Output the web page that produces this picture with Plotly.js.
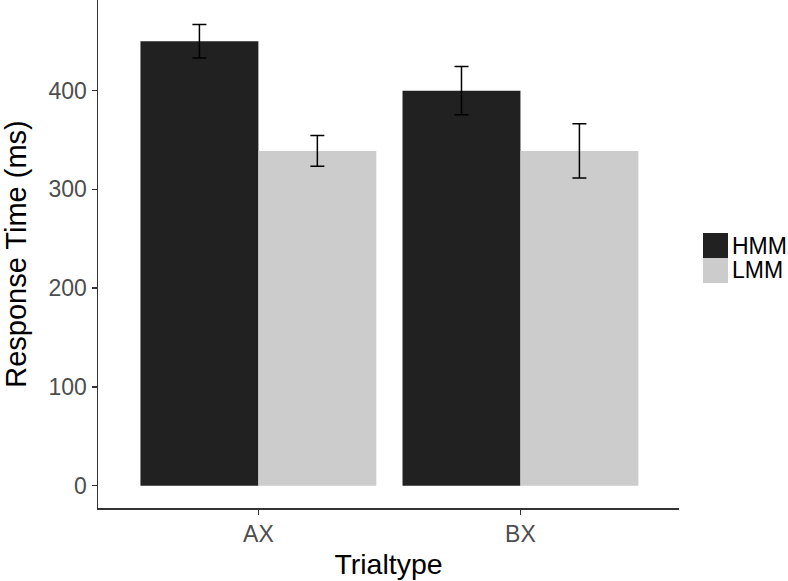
<!DOCTYPE html>
<html>
<head>
<meta charset="utf-8">
<script src="https://cdn.plot.ly/plotly-3.0.1.min.js"></script>
<style>html,body{margin:0;padding:0;background:#fff;}#chart{width:788px;height:581px;}</style>
</head>
<body>
<div id="chart"></div>
<script>
// Data
var categories = ["AX", "BX"];
var seriesNames = ["HMM", "LMM"];
var hmmMeans = [450, 400];
var hmmErr = [17, 24.5];
var lmmMeans = [339, 339];
var lmmErr = [15.5, 27.5];
var yTicks = [0, 100, 200, 300, 400];
var colors = ["#212121", "#cccccc"];

var W = 788, H = 581;
var M = {l: 98, r: 109, t: 0, b: 73};
var pw = W - M.l - M.r, ph = H - M.t - M.b;
function px2x(px) { return (px - M.l) / pw; }
function px2y(py) { return (H - M.b - py) / ph; }

var traces = [
  {type: "bar", name: seriesNames[0], x: categories, y: hmmMeans,
   marker: {color: colors[0], line: {width: 0}},
   error_y: {type: "data", array: hmmErr, visible: true, color: "#000", thickness: 1.5, width: 7},
   showlegend: false, hoverinfo: "none"},
  {type: "bar", name: seriesNames[1], x: categories, y: lmmMeans,
   marker: {color: colors[1], line: {width: 0}},
   error_y: {type: "data", array: lmmErr, visible: true, color: "#000", thickness: 1.5, width: 7},
   showlegend: false, hoverinfo: "none"}
];

// manual legend (ggplot-style keys)
var shapes = [], annotations = [];
var keyX0 = 703, keyX1 = 728, keyY0 = 233, keyH = 25;
for (var i = 0; i < seriesNames.length; i++) {
  var y0 = keyY0 + i * keyH;
  shapes.push({type: "rect", xref: "paper", yref: "paper",
    x0: px2x(keyX0), x1: px2x(keyX1), y0: px2y(y0 + keyH), y1: px2y(y0),
    fillcolor: colors[i], line: {width: 0}});
  annotations.push({xref: "paper", yref: "paper", x: px2x(keyX1 + 2), y: px2y(y0 + keyH / 2),
    xanchor: "left", yanchor: "middle", showarrow: false, text: seriesNames[i],
    font: {family: "Liberation Sans, Arial, sans-serif", size: 23, color: "#000"}});
}

var layout = {
  width: W, height: H,
  margin: M,
  paper_bgcolor: "#fff", plot_bgcolor: "#fff",
  barmode: "group", bargap: 0.1, bargroupgap: 0,
  showlegend: false,
  font: {family: "Liberation Sans, Arial, sans-serif"},
  xaxis: {
    type: "category", range: [-0.612, 1.605], fixedrange: true,
    showline: true, linecolor: "#333", linewidth: 1.5,
    ticks: "outside", ticklen: 5, tickwidth: 1.5, tickcolor: "#333",
    showgrid: false, zeroline: false,
    tickfont: {size: 23, color: "#4d4d4d"},
    title: {text: "Trialtype", font: {size: 28.5, color: "#000"}, standoff: 8}
  },
  yaxis: {
    range: [-22.6, 491.8], fixedrange: true,
    tickvals: yTicks, ticktext: yTicks.map(String),
    showline: true, linecolor: "#333", linewidth: 1.5,
    ticks: "outside", ticklen: 5, tickwidth: 1.5, tickcolor: "#333",
    showgrid: false, zeroline: false,
    tickfont: {size: 23, color: "#4d4d4d"},
    title: {text: "Response Time (ms)", font: {size: 29, color: "#000"}, standoff: 16}
  },
  shapes: shapes,
  annotations: annotations
};

Plotly.newPlot("chart", traces, layout, {displayModeBar: false, staticPlot: true});
</script>
</body>
</html>
